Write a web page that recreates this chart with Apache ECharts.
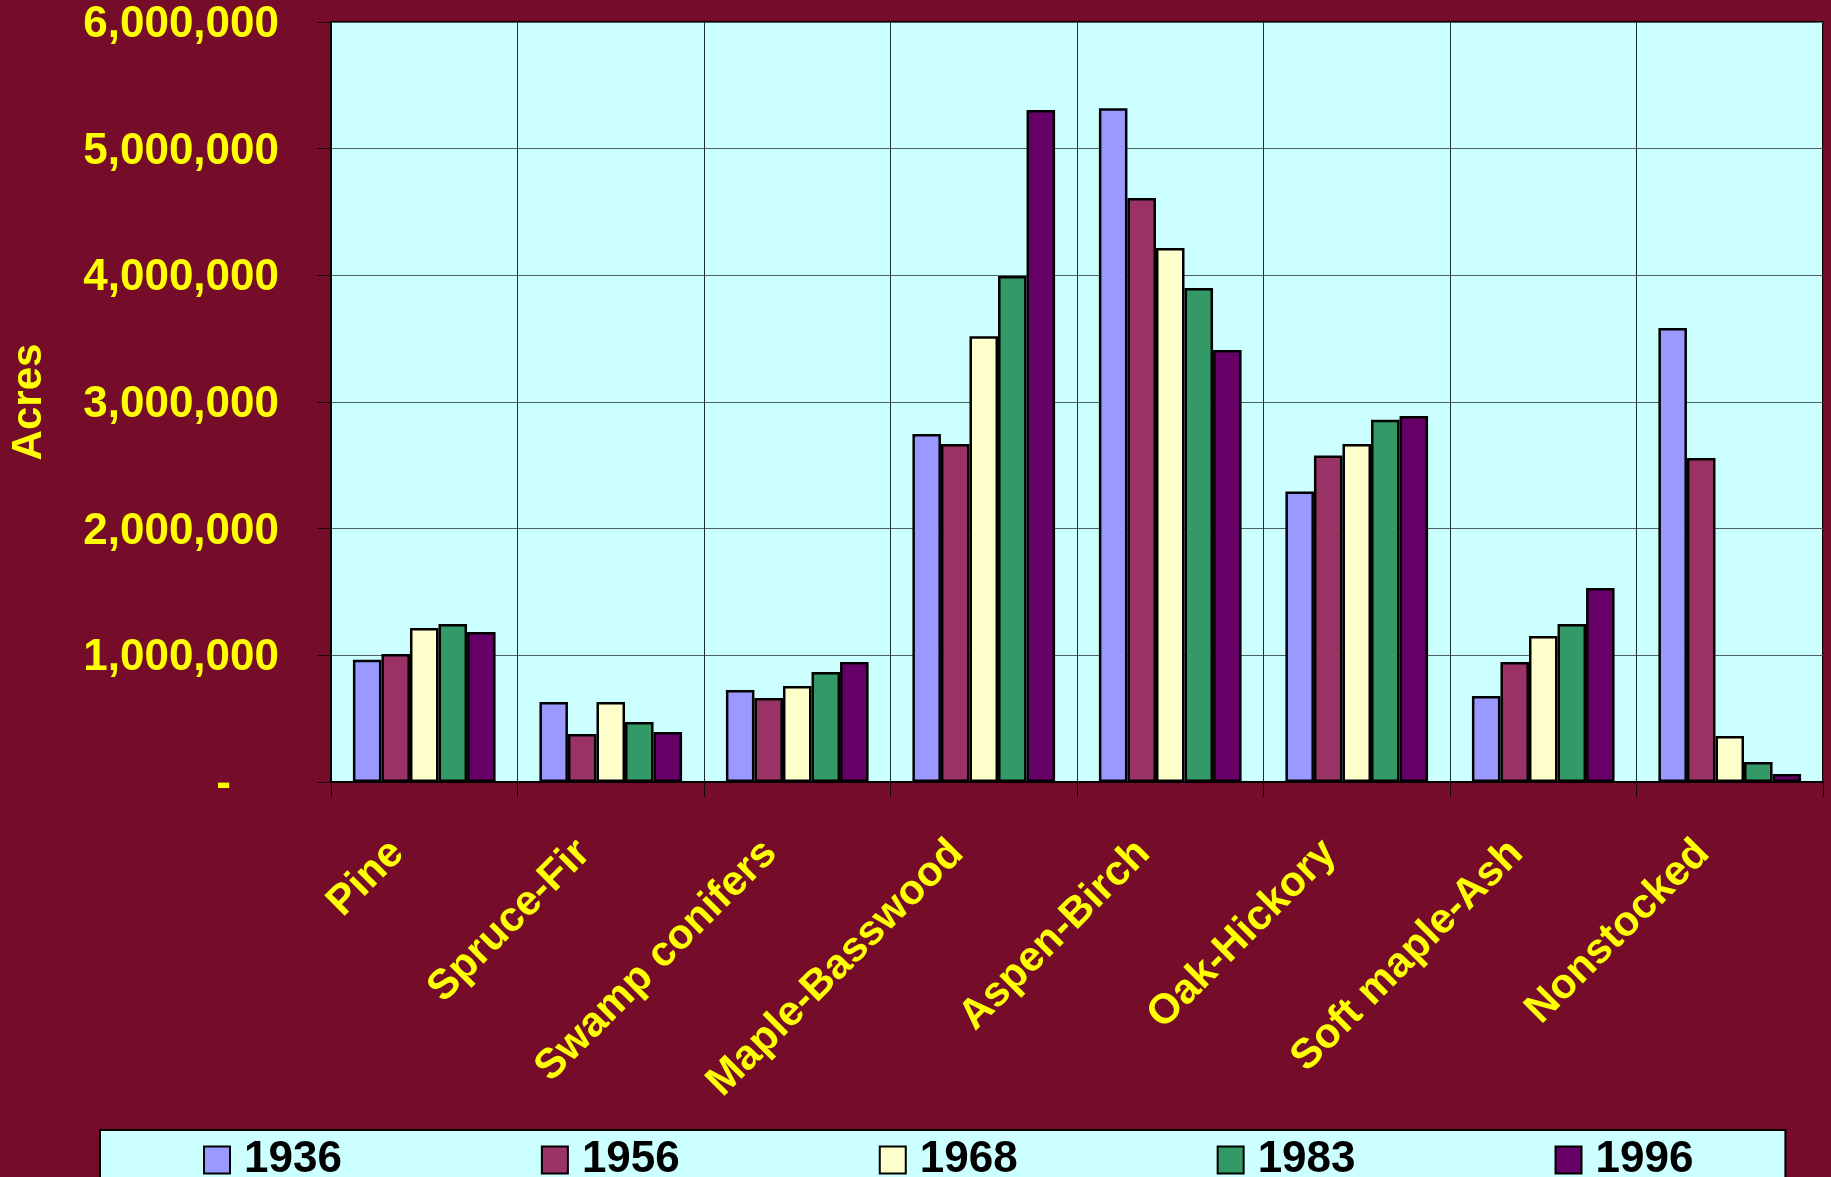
<!DOCTYPE html>
<html>
<head>
<meta charset="utf-8">
<script src="https://cdn.jsdelivr.net/npm/echarts@6/dist/echarts.min.js"></script>
<style>
html,body{margin:0;padding:0;background:#740C2A;}
#chart{width:1831px;height:1177px;}
</style>
</head>
<body>
<div id="chart"></div>
<script>
const categories = ['Pine','Spruce-Fir','Swamp conifers','Maple-Basswood','Aspen-Birch','Oak-Hickory','Soft maple-Ash','Nonstocked'];
const years = ['1936','1956','1968','1983','1996'];
const v1936 = [965000, 632000, 726000, 2747000, 5320000, 2293000, 679000, 3584000];
const v1956 = [1010000, 379000, 663000, 2668000, 4610000, 2578000, 947000, 2558000];
const v1968 = [1216000, 632000, 758000, 3520000, 4216000, 2668000, 1153000, 363000];
const v1983 = [1247000, 474000, 868000, 3995000, 3900000, 2860000, 1247000, 158000];
const v1996 = [1184000, 395000, 947000, 5305000, 3410000, 2890000, 1532000, 63000];
const yTicks = {min: 0, max: 6000000, interval: 1000000};
const colors = ['#9999FF','#993366','#FFFFCC','#339966','#660066'];
const seriesValues = [v1936, v1956, v1968, v1983, v1996];

const FONT = "'Liberation Sans', Arial, sans-serif";
const chart = echarts.init(document.getElementById('chart'), null, {renderer: 'canvas'});
chart.setOption({
  backgroundColor: '#740C2A',
  animation: false,
  grid: {
    left: 331, right: 8, top: 22, bottom: 395,
    show: true, backgroundColor: '#CCFFFF', borderColor: '#000', borderWidth: 2,
    containLabel: false, outerBoundsMode: 'none'
  },
  legend: {
    data: years,
    left: 100, top: 1130,
    orient: 'horizontal',
    icon: 'rect',
    backgroundColor: '#CCFFFF',
    borderColor: '#000', borderWidth: 2,
    padding: [8, 92, 40, 103],
    itemWidth: 26, itemHeight: 27,
    itemGap: 199,
    textStyle: {color: '#000', fontSize: 44, fontWeight: 'bold', fontFamily: FONT, padding: [0,0,0,9]},
    itemStyle: {borderColor: '#000', borderWidth: 2}
  },
  xAxis: {
    type: 'category',
    data: categories,
    boundaryGap: true,
    axisLine: {show: true, lineStyle: {color: '#000', width: 2}},
    axisTick: {show: true, length: 15, lineStyle: {color: '#1a0008', width: 1}},
    splitLine: {show: true, lineStyle: {color: '#1f2e2e', width: 1}},
    axisLabel: {
      interval: 0, rotate: 45, margin: 38, hideOverlap: false,
      color: '#FFFF00', fontSize: 42, fontWeight: 'bold', fontFamily: FONT,
      padding: [0, 38, 0, 0]
    }
  },
  yAxis: {
    type: 'value',
    min: yTicks.min, max: yTicks.max, interval: yTicks.interval,
    name: 'Acres',
    nameLocation: 'middle',
    nameRotate: 90,
    nameGap: 281,
    nameTextStyle: {color: '#FFFF00', fontSize: 42, fontWeight: 'bold', fontFamily: FONT},
    axisLine: {show: true, lineStyle: {color: '#000', width: 2}},
    axisTick: {show: true, length: 14, lineStyle: {color: '#1a0008', width: 1}},
    splitLine: {show: true, lineStyle: {color: '#4f6262', width: 1}},
    axisLabel: {
      margin: 52,
      color: '#FFFF00', fontSize: 44, fontWeight: 'bold', fontFamily: FONT,
      padding: [6, 0, 0, 0],
      formatter: function (v) {
        if (v === 0) return '{z|-}';
        return v.toLocaleString('en-US');
      },
      rich: {
        z: {color: '#FFFF00', fontSize: 44, fontWeight: 'bold', fontFamily: FONT, padding: [0, 48, 0, 0]}
      }
    }
  },
  series: years.map(function (y, i) {
    return {
      name: y,
      type: 'bar',
      data: seriesValues[i],
      barGap: '0%',
      barCategoryGap: '23.5%',
      itemStyle: {color: colors[i], borderColor: '#000', borderWidth: 2.5}
    };
  })
});
</script>
</body>
</html>
